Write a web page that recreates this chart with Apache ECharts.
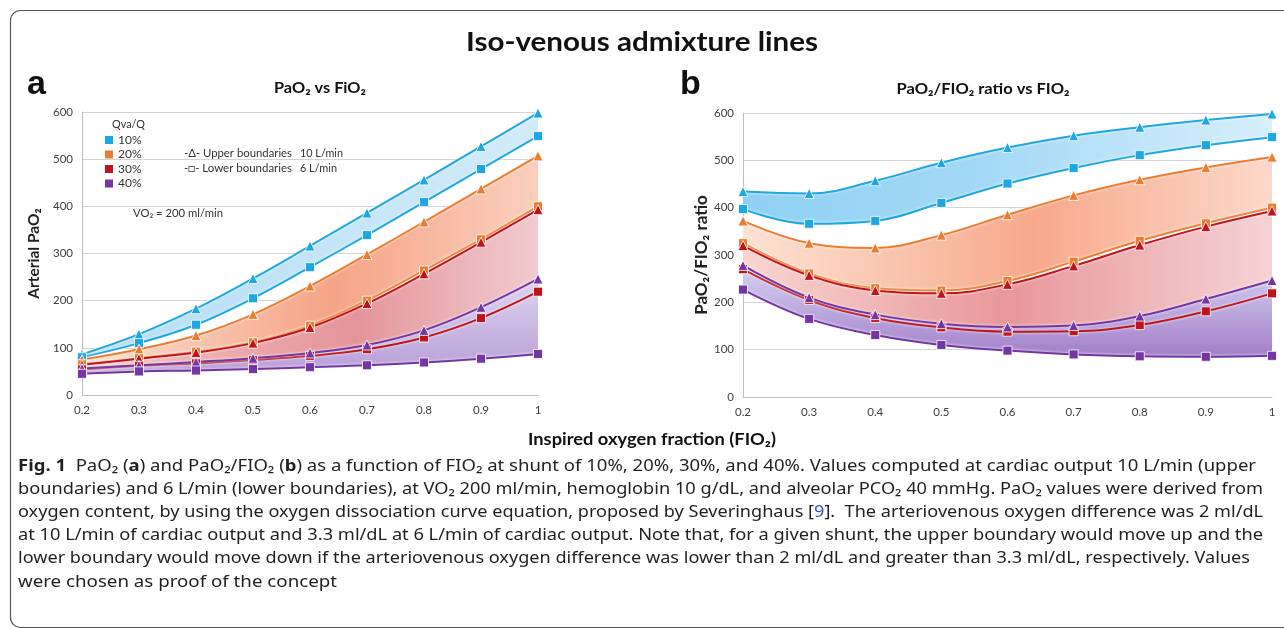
<!DOCTYPE html>
<html><head><meta charset="utf-8">
<script src="https://cdn.jsdelivr.net/npm/echarts@6/dist/echarts.min.js"></script>
<style>html,body{margin:0;padding:0;background:#fff}#c{width:1284px;height:629px}</style>
</head><body><div id="c"></div>
<script>
// ---------- data ----------
const fio2 = ['0.2','0.3','0.4','0.5','0.6','0.7','0.8','0.9','1'];
const yTicks = [0,100,200,300,400,500,600];
const shuntLabels = ['10%','20%','30%','40%'];

// Panel a: PaO2 vs FiO2 (upper = 10 L/min, lower = 6 L/min)
const pao2Upper10 = [86, 129, 183, 247, 316, 386, 456, 527, 598];
const pao2Lower10 = [80, 110, 149, 205, 271, 339, 409, 479, 549];
const pao2Upper20 = [75, 97, 126, 171, 231, 298, 367, 437, 507];
const pao2Lower20 = [65, 78, 92, 112, 147, 200, 264, 330, 400];
const pao2Upper30 = [64, 77, 90, 110, 143, 194, 257, 324, 393];
const pao2Lower30 = [54, 62, 67, 74, 83, 97, 122, 163, 219];
const pao2Upper40 = [56, 63, 70, 78, 89, 106, 137, 186, 246];
const pao2Lower40 = [45, 50, 52, 55, 59, 63, 69, 77, 87];

// Panel b: PaO2/FIO2 ratio vs FIO2
const ratioUpper10 = [434, 430, 457, 495, 527, 552, 570, 585, 598];
const ratioLower10 = [397, 366, 372, 410, 451, 484, 511, 532, 549];
const ratioUpper20 = [372, 325, 315, 342, 385, 426, 459, 485, 507];
const ratioLower20 = [325, 261, 230, 225, 245, 286, 330, 367, 400];
const ratioUpper30 = [320, 257, 225, 219, 238, 277, 321, 360, 393];
const ratioLower30 = [270, 205, 167, 147, 138, 139, 152, 181, 219];
const ratioUpper40 = [278, 210, 174, 155, 148, 151, 171, 207, 246];
const ratioLower40 = [227, 165, 131, 110, 98, 90, 86, 85, 87];

// ---------- styling ----------
const COL = ['#1ea7e1', '#ec7c30', '#c0141c', '#7336a3'];
const SM = 0.4;
function lg(stops, x2, y2){ return {type:'linear', x:0, y:0, x2:x2, y2:y2, colorStops: stops.map(s=>({offset:s[0], color:s[1]}))}; }
const gradA = [
  lg([[0,'#b5ddf6'],[1,'#d2ebfa']],1,0),
  lg([[0,'#fbe0d2'],[0.55,'#f5a486'],[1,'#fbcfbe']],1,0),
  lg([[0,'#f3c4c0'],[0.6,'#e4959a'],[1,'#f1cbcf']],1,0),
  lg([[0,'#ddd5f0'],[1,'#b89dd6']],0,1)
];
const gradB = [
  lg([[0,'#8fd0f4'],[0.45,'#a3d9f6'],[1,'#d8eefb']],1,0),
  lg([[0,'#fde2d4'],[0.55,'#f7a98b'],[1,'#fcd8ca']],1,0),
  lg([[0,'#f8d6d0'],[0.5,'#e8979a'],[1,'#f5d3d5']],1,0),
  lg([[0,'#d6d3f2'],[1,'#a27ec8']],0,1)
];

function buildSeries(gi, uppers, lowers, grads, withNames){
  const areas = [], lines = [];
  for (let k=0;k<4;k++){
    const up = uppers[k], lo = lowers[k];
    const key = 'g'+gi+'s'+k;
    const diff = up.map((u,i)=>u-lo[i]);
    areas.push({type:'line', name:key+'base', xAxisIndex:gi, yAxisIndex:gi, data:lo, stack:key, smooth:SM,
      symbol:'none', lineStyle:{opacity:0}, silent:true, z:1, emphasis:{disabled:true}});
    areas.push({type:'line', name:key+'band', xAxisIndex:gi, yAxisIndex:gi, data:diff, stack:key, smooth:SM,
      symbol:'none', lineStyle:{opacity:0}, areaStyle:{color:grads[k], opacity:1}, silent:true, z:1, emphasis:{disabled:true}});
    const ls = {color:COL[k], width:2, shadowColor:'rgba(255,255,255,0.95)', shadowBlur:3};
    lines.push({type:'line', name: withNames ? shuntLabels[k] : key+'up', xAxisIndex:gi, yAxisIndex:gi, data:up, smooth:SM,
      symbol:'triangle', symbolSize:10, showAllSymbol:true, lineStyle:ls,
      itemStyle:{color:COL[k], borderColor:'#fff', borderWidth:0.8}, z:3, emphasis:{disabled:true}});
    lines.push({type:'line', name:key+'lo', xAxisIndex:gi, yAxisIndex:gi, data:lo, smooth:SM,
      symbol:'rect', symbolSize:9, showAllSymbol:true, lineStyle:ls,
      itemStyle:{color:COL[k], borderColor:'#fff', borderWidth:0.8}, z:3, emphasis:{disabled:true}});
  }
  return areas.concat(lines);
}

const series = []
  .concat(buildSeries(0, [pao2Upper10,pao2Upper20,pao2Upper30,pao2Upper40], [pao2Lower10,pao2Lower20,pao2Lower30,pao2Lower40], gradA, true))
  .concat(buildSeries(1, [ratioUpper10,ratioUpper20,ratioUpper30,ratioUpper40], [ratioLower10,ratioLower20,ratioLower30,ratioLower40], gradB, false));

const AX_FONT = 'Lato';
function xAxis(gi){ return {gridIndex:gi, type:'category', data:fio2, boundaryGap:false,
  axisLine:{show:true, lineStyle:{color:'#bfbfbf'}}, axisTick:{show:false},
  axisLabel:{color:'#404040', fontSize:11.5, fontFamily:AX_FONT, margin:9}}; }
function yAxis(gi, name, gap, nsize){ return {gridIndex:gi, type:'value', min:yTicks[0], max:yTicks[yTicks.length-1], interval:100,
  axisLine:{show:true, lineStyle:{color:'#bfbfbf'}}, axisTick:{show:false},
  splitLine:{lineStyle:{color:'#d4d4d4'}},
  axisLabel:{color:'#404040', fontSize:11.5, fontFamily:AX_FONT, margin:9},
  name:name, nameLocation:'middle', nameRotate:90, nameGap:gap,
  nameTextStyle:{fontWeight:'bold', fontSize:nsize, fontFamily:AX_FONT, color:'#222'}}; }

// ---------- text fitting ----------
const mctx = document.createElement('canvas').getContext('2d');
function fontStr(s){ return (s.fontWeight||'normal')+' '+s.fontSize+'px '+s.fontFamily; }
function measureSegs(segs, styles){ let w=0; segs.forEach(sg=>{ mctx.font = fontStr(styles[sg[0]]); w += mctx.measureText(sg[1]).width; }); return w; }
function fitText(text, x, y, font, target, align, fill){
  mctx.font = font.weight+' '+font.size+'px '+font.family;
  const w = mctx.measureText(text).width;
  return {type:'text', x:x, y:y, scaleX: target / w, z:10,
    style:{text:text, fontFamily:font.family, fontSize:font.size, fontWeight:font.weight, fill:fill||'#111',
      align:align, verticalAlign:'middle', textAlign:align, textVerticalAlign:'middle'}};
}

const capStyles = {
  n:{fontFamily:'Noto Sans', fontSize:15.5, fontWeight:'normal', fill:'#231f20', color:'#231f20'},
  b:{fontFamily:'Noto Sans', fontSize:15.5, fontWeight:'bold', fill:'#231f20', color:'#231f20'},
  l:{fontFamily:'Noto Sans', fontSize:15.5, fontWeight:'normal', fill:'#2a55c8', color:'#2a55c8'}
};
const capLines = [
  {y:467, end:1256, segs:[['b','Fig. 1'],['n','  PaO₂ ('],['b','a'],['n',') and PaO₂/FIO₂ ('],['b','b'],['n',') as a function of FIO₂ at shunt of 10%, 20%, 30%, and 40%. Values computed at cardiac output 10 L/min (upper']]},
  {y:490, end:1263, segs:[['n','boundaries) and 6 L/min (lower boundaries), at VO₂ 200 ml/min, hemoglobin 10 g/dL, and alveolar PCO₂ 40 mmHg. PaO₂ values were derived from']]},
  {y:513, end:1263, segs:[['n','oxygen content, by using the oxygen dissociation curve equation, proposed by Severinghaus ['],['l','9'],['n','].  The arteriovenous oxygen difference was 2 ml/dL']]},
  {y:536, end:1263, segs:[['n','at 10 L/min of cardiac output and 3.3 ml/dL at 6 L/min of cardiac output. Note that, for a given shunt, the upper boundary would move up and the']]},
  {y:559, end:1250, segs:[['n','lower boundary would move down if the arteriovenous oxygen difference was lower than 2 ml/dL and greater than 3.3 ml/dL, respectively. Values']]},
  {y:583, end:337, segs:[['n','were chosen as proof of the concept']]}
];
const CAP_X = 18;
const captionEls = capLines.map(L => {
  const w = measureSegs(L.segs, capStyles);
  return {type:'text', x:CAP_X, y:L.y, scaleX:(L.end-CAP_X)/w, z:10,
    style:{text: L.segs.map(s=>'{'+s[0]+'|'+s[1]+'}').join(''), rich:capStyles,
      align:'left', verticalAlign:'middle', textAlign:'left', textVerticalAlign:'middle'}};
});

const F = (size, weight, family) => ({size:size, weight:weight||'normal', family:family||'Lato'});
const graphics = [
  {type:'rect', shape:{x:10.5, y:10.5, width:1300, height:617, r:10}, style:{fill:'none', stroke:'#555', lineWidth:1.2}, silent:true},
  fitText('Iso-venous admixture lines', 642, 43, F(26,'bold'), 352, 'center'),
  {type:'text', x:27, y:85, style:{text:'a', fontFamily:'Liberation Sans', fontSize:34, fontWeight:'bold', fill:'#111', align:'left', verticalAlign:'middle', textAlign:'left', textVerticalAlign:'middle'}},
  {type:'text', x:680, y:85, style:{text:'b', fontFamily:'Liberation Sans', fontSize:34, fontWeight:'bold', fill:'#111', align:'left', verticalAlign:'middle', textAlign:'left', textVerticalAlign:'middle'}},
  fitText('PaO₂ vs FiO₂', 320, 88, F(14.5,'bold'), 92, 'center'),
  fitText('PaO₂/FIO₂ ratio vs FIO₂', 983, 89, F(14.5,'bold'), 173, 'center'),
  fitText('Inspired oxygen fraction (FIO₂)', 652, 440, F(17,'bold'), 248, 'center'),
  fitText('Qva/Q', 112, 124, F(12), 33, 'left', '#333'),
  fitText('-Δ- Upper boundaries', 184, 153, F(12), 108, 'left', '#333'),
  fitText('10 L/min', 300, 153, F(12), 43, 'left', '#333'),
  fitText('-□- Lower boundaries', 184, 168, F(12), 108, 'left', '#333'),
  fitText('6 L/min', 300, 168, F(12), 37, 'left', '#333'),
  fitText('VO₂ = 200 ml/min', 133, 213, F(12), 90, 'left', '#333')
].concat(captionEls);

const option = {
  animation:false,
  backgroundColor:'#fff',
  grid:[
    {left:82, right:746, top:112, bottom:234, containLabel:false},
    {left:743, right:12, top:113, bottom:232, containLabel:false}
  ],
  xAxis:[xAxis(0), xAxis(1)],
  yAxis:[yAxis(0,'Arterial PaO₂',40,15.5), yAxis(1,'PaO₂/FIO₂ ratio',33,17)],
  legend:{left:100, top:129, orient:'vertical', itemWidth:8, itemHeight:8, itemGap:2.5, selectedMode:false,
    textStyle:{fontSize:12, fontFamily:'Lato', color:'#333', lineHeight:12},
    data: shuntLabels.map((s,i)=>({name:s, icon:'rect', itemStyle:{color:COL[i], borderWidth:0}}))},
  series: series,
  graphic: graphics
};
const chart = echarts.init(document.getElementById('c'));
chart.setOption(option);
</script></body></html>
